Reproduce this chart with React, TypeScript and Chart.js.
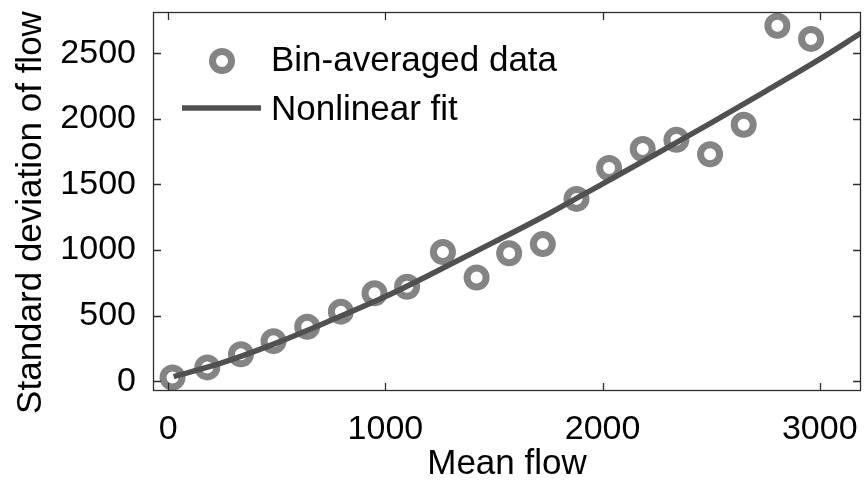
import { useEffect, useRef } from "react";
import { Chart, registerables } from "chart.js";

Chart.register(...registerables);

// Bin-averaged observations
const meanFlow = [20, 180, 335, 485, 640, 795, 950, 1100, 1265, 1420, 1570, 1725, 1880, 2030, 2185, 2340, 2495, 2650, 2805, 2960];
const stdFlow = [28, 105, 205, 305, 415, 530, 670, 720, 985, 790, 975, 1045, 1390, 1625, 1770, 1840, 1730, 1955, 2710, 2610];

// Fitted curve, sampled along the mean-flow axis
const fitMeanFlow = [25, 250, 500, 750, 1000, 1250, 1500, 1750, 2000, 2250, 2500, 2750, 3000, 3190];
const fitStdFlow = [35, 141, 292, 464, 645, 849, 1060, 1275, 1505, 1735, 1970, 2210, 2455, 2654];

const xTickValues = [0, 1000, 2000, 3000];
const yTickValues = [0, 500, 1000, 1500, 2000, 2500];
const xLimits = [-70, 3190];
const yLimits = [-75, 2815];

const seriesNames = ["Bin-averaged data", "Nonlinear fit"];
const xTitle = "Mean flow";
const yTitle = "Standard deviation of flow";

const FONT_FAMILY = "'Liberation Sans', Arial, Helvetica, sans-serif";
const MARKER_COLOR = "#848484";
const FIT_COLOR = "#505050";
const AXIS_COLOR = "#2e2e2e";
const MARKER_RADIUS = 9.5;
const MARKER_RING = 7;
const FIT_WIDTH = 5.5;

// The plot box is fixed by layout.padding alone; tick labels may overhang it
const fixedPlotBox = {
  id: "fixedPlotBox",
  beforeLayout(chart: any) {
    Object.values(chart.scales).forEach((s: any) => {
      s.getPadding = () => ({ left: 0, top: 0, right: 0, bottom: 0 });
    });
  },
};

// Box around the plot area, inward tick marks on all four sides, the inset legend
// and the vertical axis title (set slightly below the axis centre)
const frameAndLegend = {
  id: "frameAndLegend",
  afterDatasetsDraw(chart: any) {
    const { ctx, chartArea: a, scales } = chart;
    const tl = 8;
    ctx.save();
    ctx.strokeStyle = AXIS_COLOR;
    ctx.lineWidth = 1.3;
    ctx.beginPath();
    scales.x.ticks.forEach((t: any) => {
      const px = Math.round(scales.x.getPixelForValue(t.value)) + 0.5;
      ctx.moveTo(px, a.bottom);
      ctx.lineTo(px, a.bottom - tl);
      ctx.moveTo(px, a.top);
      ctx.lineTo(px, a.top + tl);
    });
    scales.y.ticks.forEach((t: any) => {
      const py = Math.round(scales.y.getPixelForValue(t.value)) + 0.5;
      ctx.moveTo(a.left, py);
      ctx.lineTo(a.left + tl, py);
      ctx.moveTo(a.right, py);
      ctx.lineTo(a.right - tl, py);
    });
    ctx.stroke();
    ctx.strokeRect(a.left + 0.5, a.top + 0.5, a.right - a.left - 1, a.bottom - a.top - 1);

    // legend
    const lx = a.left;
    const ly = a.top;
    ctx.font = `35px ${FONT_FAMILY}`;
    ctx.fillStyle = "#000";
    ctx.textAlign = "left";
    ctx.textBaseline = "middle";

    ctx.beginPath();
    ctx.arc(lx + 69, ly + 49, MARKER_RADIUS, 0, Math.PI * 2);
    ctx.strokeStyle = MARKER_COLOR;
    ctx.lineWidth = MARKER_RING;
    ctx.stroke();
    ctx.fillText(seriesNames[0], lx + 118, ly + 49);

    ctx.beginPath();
    ctx.moveTo(lx + 29, ly + 96);
    ctx.lineTo(lx + 108, ly + 96);
    ctx.strokeStyle = FIT_COLOR;
    ctx.lineWidth = FIT_WIDTH;
    ctx.stroke();
    ctx.fillText(seriesNames[1], lx + 118, ly + 98);

    // vertical axis title
    ctx.translate(31, (a.top + a.bottom) / 2 + 11);
    ctx.rotate(-Math.PI / 2);
    ctx.textAlign = "center";
    ctx.fillText(yTitle, 0, 0);
    ctx.restore();
  },
};

export default function App() {
  const canvasRef = useRef<HTMLCanvasElement | null>(null);

  useEffect(() => {
    const canvas = canvasRef.current;
    if (!canvas) return;
    const tickFont = { family: FONT_FAMILY, size: 34, lineHeight: 1 };
    const titleFont = { family: FONT_FAMILY, size: 35, lineHeight: 1 };

    const chart = new Chart(canvas, {
      type: "scatter",
      data: {
        datasets: [
          {
            type: "line",
            label: seriesNames[1],
            data: fitMeanFlow.map((x, i) => ({ x, y: fitStdFlow[i] })),
            borderColor: FIT_COLOR,
            borderWidth: FIT_WIDTH,
            pointRadius: 0,
            fill: false,
            cubicInterpolationMode: "monotone",
            borderCapStyle: "butt",
          } as any,
          {
            type: "scatter",
            label: seriesNames[0],
            data: meanFlow.map((x, i) => ({ x, y: stdFlow[i] })),
            showLine: false,
            pointStyle: "circle",
            pointRadius: MARKER_RADIUS,
            pointBorderWidth: MARKER_RING,
            pointBorderColor: MARKER_COLOR,
            pointBackgroundColor: "rgba(0,0,0,0)",
            borderColor: MARKER_COLOR,
            backgroundColor: "rgba(0,0,0,0)",
          } as any,
        ],
      },
      options: {
        animation: false,
        responsive: false,
        events: [],
        layout: { autoPadding: false, padding: { left: 0, top: 12, right: 3, bottom: 0 } },
        plugins: {
          legend: { display: false },
          tooltip: { enabled: false },
        },
        scales: {
          x: {
            type: "linear",
            min: xLimits[0],
            max: xLimits[1],
            grid: { display: false },
            border: { display: false },
            afterBuildTicks: (s: any) => {
              s.ticks = xTickValues.map((v) => ({ value: v }));
            },
            afterFit: (s: any) => {
              s.height = 90;
            },
            ticks: {
              color: "#000",
              font: tickFont,
              padding: 14,
              maxRotation: 0,
              autoSkip: false,
              callback: (v: any) => String(v),
            },
            title: {
              display: true,
              text: xTitle,
              color: "#000",
              font: titleFont,
              padding: { top: 0, bottom: -1 },
            },
          },
          y: {
            type: "linear",
            min: yLimits[0],
            max: yLimits[1],
            grid: { display: false },
            border: { display: false },
            afterBuildTicks: (s: any) => {
              s.ticks = yTickValues.map((v) => ({ value: v }));
            },
            afterFit: (s: any) => {
              s.width = 153;
            },
            ticks: {
              color: "#000",
              font: tickFont,
              padding: 9,
              autoSkip: false,
              callback: (v: any) => String(v),
            },
            title: { display: false, text: yTitle },
          },
        },
      },
      plugins: [fixedPlotBox, frameAndLegend],
    });

    return () => chart.destroy();
  }, []);

  return (
    <div style={{ position: "fixed", left: 0, top: 0, width: 864, height: 481, background: "#fff" }}>
      <canvas ref={canvasRef} width={864} height={481} style={{ display: "block" }} />
    </div>
  );
}
